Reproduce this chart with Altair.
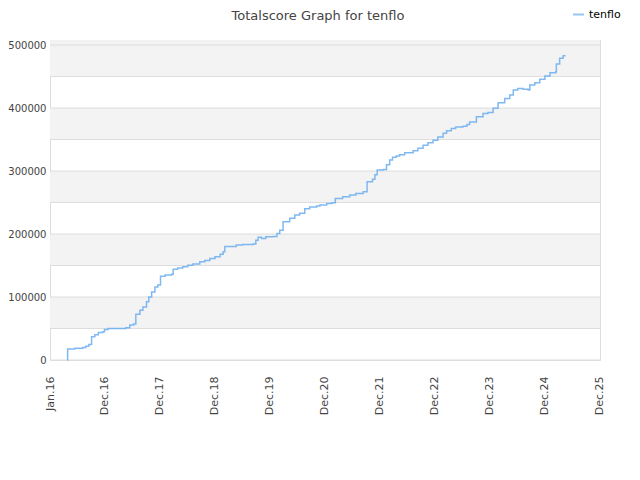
import altair as alt
import pandas as pd

series_name = "tenflo"
title_text = "Totalscore Graph for tenflo"

dates = [
    "2016-04-25", "2016-04-27", "2016-06-14", "2016-08-06", "2016-08-26", "2016-09-15",
    "2016-10-03", "2016-10-25", "2016-11-17", "2016-12-17", "2016-12-28", "2017-01-20",
    "2017-05-18", "2017-06-14", "2017-07-10", "2017-07-24", "2017-08-20", "2017-09-09",
    "2017-10-03", "2017-10-18", "2017-11-06", "2017-11-28", "2017-12-17", "2018-01-04",
    "2018-02-03", "2018-03-19", "2018-03-29", "2018-04-28", "2018-06-01", "2018-07-04",
    "2018-08-07", "2018-09-22", "2018-10-25", "2018-11-28", "2019-01-01", "2019-02-04",
    "2019-02-24", "2019-03-07", "2019-05-22", "2019-07-04", "2019-09-11", "2019-09-29",
    "2019-10-14", "2019-11-06", "2019-12-04", "2020-01-22", "2020-02-16", "2020-03-06",
    "2020-03-28", "2020-05-11", "2020-06-14", "2020-07-16", "2020-08-19", "2020-09-21",
    "2020-11-06", "2020-11-28", "2021-01-12", "2021-02-16", "2021-03-10", "2021-04-28",
    "2021-06-14", "2021-07-24", "2021-09-11", "2021-10-07", "2021-11-12", "2021-11-28",
    "2021-12-13", "2022-01-22", "2022-02-13", "2022-03-06", "2022-03-25", "2022-04-19",
    "2022-05-11", "2022-06-14", "2022-08-09", "2022-09-09", "2022-10-14", "2022-11-15",
    "2022-12-19", "2023-01-20", "2023-02-24", "2023-03-19", "2023-04-19", "2023-05-18",
    "2023-07-06", "2023-08-01", "2023-08-19", "2023-10-03", "2023-11-16", "2023-12-18",
    "2024-01-22", "2024-02-24", "2024-04-08", "2024-05-12", "2024-06-04", "2024-07-04",
    "2024-08-08", "2024-09-11", "2024-09-22", "2024-10-25", "2024-11-27", "2024-12-31",
    "2025-02-03", "2025-03-13", "2025-03-17", "2025-04-08", "2025-05-01", "2025-05-12",
]
scores = [
    0, 17500, 18500, 20000, 22000, 24500,
    37000, 40000, 43500, 45000, 48500, 50000,
    51000, 55500, 57000, 72500, 79000, 84000,
    92500, 100000, 108000, 116000, 119000, 133000,
    135000, 136000, 144000, 146000, 148000, 150500,
    152500, 156000, 158000, 161000, 164000, 168000,
    172000, 180000, 182500, 183500, 184000, 190000,
    195000, 193000, 195500, 196000, 201000, 206000,
    219500, 225000, 230000, 233000, 240000, 243000,
    244500, 246000, 248500, 249500, 256500, 259000,
    262000, 264500, 267000, 283000, 287000, 294000,
    301500, 302500, 310000, 317500, 322000, 324000,
    326000, 329000, 332000, 336000, 341000, 345000,
    349000, 354000, 360000, 364000, 367500, 370000,
    371000, 374000, 378000, 386000, 391500, 393000,
    399500, 408500, 415000, 420500, 428500, 431000,
    430000, 428500, 436500, 440000, 445500, 450800,
    456000, 457600, 470000, 479000, 483000, 484000,
]

y_ticks = [0, 50000, 100000, 150000, 200000, 250000, 300000, 350000, 400000, 450000, 500000]
y_max = 508000
band_lo = [50000, 150000, 250000, 350000, 450000]
band_hi = [100000, 200000, 300000, 400000, 508000]

x_tick_dates = [(2016, 1, 1), (2016, 12, 31), (2017, 12, 31), (2018, 12, 31), (2019, 12, 31),
                (2020, 12, 31), (2021, 12, 31), (2022, 12, 31), (2023, 12, 31), (2024, 12, 31),
                (2025, 12, 31)]
x_domain = [(2016, 1, 1), (2026, 1, 1)]

FONT = "DejaVu Sans"
LINE_COLOR = "#6aadf0"

df = pd.DataFrame({"date": dates, "score": scores, "player": series_name})
bands = pd.DataFrame({"lo": band_lo, "hi": band_hi})
grid = pd.DataFrame({"v": y_ticks})

dt = lambda t: alt.DateTime(year=t[0], month=t[1], date=t[2])
x_scale = alt.Scale(domain=[dt(t) for t in x_domain], nice=False)
y_scale = alt.Scale(domain=[0, y_max], nice=False, zero=True)

band_layer = alt.Chart(bands).mark_rect(color="#f3f3f3").encode(
    y=alt.Y("lo:Q", scale=y_scale),
    y2="hi:Q",
    x=alt.value(0),
    x2=alt.value("width"),
)

grid_layer = alt.Chart(grid).mark_rule(color="#dddddd", strokeWidth=1).encode(
    y=alt.Y("v:Q", scale=y_scale),
)

line_layer = alt.Chart(df).mark_line(interpolate="step-after", strokeWidth=1.5, opacity=0.85).encode(
    x=alt.X("date:T", scale=x_scale, title=None,
            axis=alt.Axis(values=[dt(t) for t in x_tick_dates], format="%b.%y", labelAngle=-90,
                          labelAlign="right", labelBaseline="middle", ticks=False, domain=False,
                          grid=False, labelPadding=16, labelFontSize=11, labelColor="#444",
                          labelFont=FONT, labelOverlap=False, labelFlush=False)),
    y=alt.Y("score:Q", scale=y_scale, title=None,
            axis=alt.Axis(values=y_ticks, format="d", ticks=False, domain=False, grid=False,
                          labelPadding=4, labelFontSize=10, labelColor="#444", labelFont=FONT)),
    color=alt.Color("player:N", scale=alt.Scale(range=[LINE_COLOR]),
                    legend=alt.Legend(orient="none", legendX=522, legendY=-32, title=None,
                                      symbolType="stroke", symbolStrokeWidth=2, symbolSize=120,
                                      labelFontSize=11, labelColor="#000", labelFont=FONT,
                                      symbolOpacity=0.7)),
)

chart = alt.layer(band_layer, grid_layer, line_layer).properties(
    width=550,
    height=320,
    padding={"left": 42, "top": 32, "right": 32, "bottom": 100},
    autosize=alt.AutoSizeParams(type="none"),
    title=alt.TitleParams(title_text, fontSize=13, fontWeight="normal", color="#444", font=FONT,
                          anchor="middle", frame="group", offset=-15, dx=-7),
).configure_view(stroke="#d4d4d4", strokeWidth=1).configure(background="white")

chart.save("out.html", embed_options={"renderer": "svg", "actions": False})
